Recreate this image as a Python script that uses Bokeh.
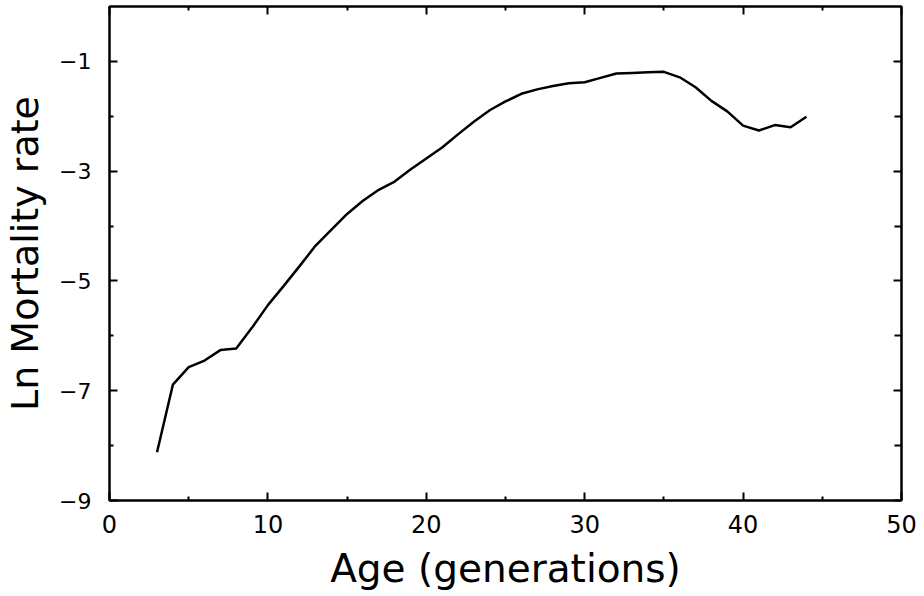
from bokeh.plotting import figure
from bokeh.models import LinearAxis, FixedTicker, Range1d
from bokeh.embed import file_html
from bokeh.resources import INLINE

age = [3, 4, 5, 6, 7, 8, 9, 10, 11, 12, 13, 14, 15, 16, 17, 18, 19, 20, 21, 22, 23,
       24, 25, 26, 27, 28, 29, 30, 31, 32, 33, 34, 35, 36, 37, 38, 39, 40, 41, 42, 43, 44]
ln_mortality = [-8.12, -6.89, -6.57, -6.45, -6.26, -6.23, -5.85, -5.44, -5.09, -4.73,
                -4.36, -4.07, -3.78, -3.54, -3.34, -3.19, -2.97, -2.77, -2.57, -2.33,
                -2.10, -1.89, -1.73, -1.59, -1.51, -1.45, -1.40, -1.38, -1.30, -1.22,
                -1.21, -1.20, -1.19, -1.29, -1.47, -1.72, -1.91, -2.17, -2.26, -2.16,
                -2.20, -2.01]
x_major = [0, 10, 20, 30, 40, 50]
x_minor = [5, 15, 25, 35, 45]
y_major = [-9, -7, -5, -3, -1]
y_minor = [-8, -6, -4, -2]

FONT = "DejaVu Sans"

p = figure(frame_width=792, frame_height=494, output_backend="svg",
           toolbar_location=None, x_axis_location=None, y_axis_location=None,
           x_range=Range1d(0, 50), y_range=Range1d(-9, 0),
           min_border_left=96, min_border_top=6, min_border_right=16,
           min_border_bottom=88)
p.grid.visible = False
p.outline_line_color = "black"
p.outline_line_width = 2
p.background_fill_color = "white"
p.border_fill_color = "white"

p.line(age, ln_mortality, line_color="black", line_width=2.5)

xt = FixedTicker(ticks=x_major, minor_ticks=x_minor)
yt = FixedTicker(ticks=y_major, minor_ticks=y_minor)


def style(ax, labels=True, minor_len=4):
    ax.axis_line_color = "black"
    ax.axis_line_width = 2
    ax.major_tick_line_color = "black"
    ax.major_tick_line_width = 2
    ax.minor_tick_line_color = "black"
    ax.minor_tick_line_width = 2
    ax.major_tick_in = 8
    ax.major_tick_out = 0
    ax.minor_tick_in = minor_len
    ax.minor_tick_out = 0
    ax.major_label_text_color = "black"
    ax.axis_label_text_color = "black"
    if not labels:
        ax.major_label_text_font_size = "0px"
        ax.major_label_standoff = 0
        ax.major_label_text_alpha = 0


xb = LinearAxis(ticker=xt, axis_label="Age (generations)")
style(xb)
xb.major_label_text_font = FONT
xb.major_label_text_font_size = "24px"
xb.major_label_standoff = 14
xb.axis_label_text_font = FONT
xb.axis_label_text_font_size = "39px"
xb.axis_label_text_font_style = "normal"
xb.axis_label_standoff = 10
p.add_layout(xb, "below")

yl = LinearAxis(ticker=yt, axis_label="Ln Mortality rate")
style(yl)
yl.major_label_text_font = FONT
yl.major_label_text_font_size = "22px"
yl.major_label_standoff = 18
yl.axis_label_text_font = FONT
yl.axis_label_text_font_size = "38px"
yl.axis_label_text_font_style = "normal"
yl.axis_label_standoff = 9
p.add_layout(yl, "left")

xa = LinearAxis(ticker=xt)
style(xa, labels=False)
p.add_layout(xa, "above")

yr = LinearAxis(ticker=yt)
style(yr, labels=False, minor_len=7)
p.add_layout(yr, "right")

open("out.html", "w").write(file_html(p, INLINE))
